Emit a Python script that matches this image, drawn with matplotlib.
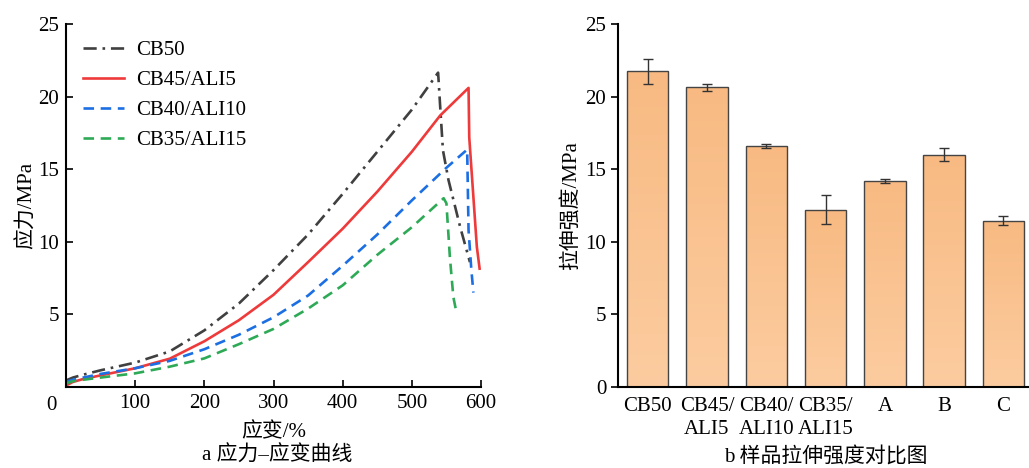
import matplotlib
matplotlib.use("Agg")
import matplotlib.pyplot as plt
import numpy as np
from matplotlib.colors import LinearSegmentedColormap

plt.rcParams['font.family'] = ['Liberation Serif', 'Noto Sans CJK SC']
plt.rcParams['font.size'] = 15
plt.rcParams['axes.unicode_minus'] = False

# stress-strain curves (strain %, stress MPa)
cb50_x = [0, 10, 25, 50, 100, 150, 200, 250, 300, 350, 400, 450, 500, 538, 541, 545, 553, 570, 584]
cb50_y = [0.45, 0.65, 0.85, 1.15, 1.68, 2.45, 3.9, 5.75, 8.05, 10.5, 13.3, 16.2, 19.1, 21.65, 19.3, 16.3, 14.25, 11.0, 8.6]

cb45_x = [0, 10, 25, 50, 100, 150, 200, 250, 300, 350, 400, 450, 500, 541, 582, 583, 594, 598]
cb45_y = [0.1, 0.35, 0.55, 0.8, 1.29, 1.95, 3.15, 4.6, 6.35, 8.6, 10.9, 13.45, 16.2, 18.7, 20.6, 17.2, 9.65, 8.15]

cb40_x = [0, 10, 25, 50, 100, 150, 200, 250, 300, 350, 400, 450, 500, 550, 580, 582, 586, 589]
cb40_y = [0.35, 0.5, 0.65, 0.9, 1.29, 1.8, 2.6, 3.6, 4.8, 6.3, 8.35, 10.5, 12.85, 15.1, 16.35, 10.8, 8.1, 6.5]

cb35_x = [0, 10, 25, 50, 100, 150, 200, 250, 300, 350, 400, 450, 500, 546, 550, 555, 560, 564]
cb35_y = [0.25, 0.4, 0.5, 0.65, 0.94, 1.4, 1.97, 2.95, 4.0, 5.4, 7.0, 9.1, 11.0, 13.0, 12.65, 8.95, 6.2, 5.25]

# tensile strength bars
samples = ['CB50', 'CB45/\nALI5', 'CB40/\nALI10', 'CB35/\nALI15', 'A', 'B', 'C']
strength = [21.75, 20.65, 16.6, 12.2, 14.2, 16.0, 11.45]
strength_err = [0.85, 0.25, 0.12, 1.0, 0.12, 0.45, 0.3]

fig = plt.figure(figsize=(10.29, 4.68), dpi=100)
ax1 = fig.add_axes([66 / 1029, 81 / 468, 415 / 1029, 363 / 468])
ax2 = fig.add_axes([618 / 1029, 81 / 468, 411 / 1029, 363 / 468])

# ---- left: stress-strain
ax1.plot(cb50_x, cb50_y, color='#404040', lw=1.9, dashes=(5, 2.2, 1, 2.2), label='CB50')
ax1.plot(cb45_x, cb45_y, color='#EE3A3A', lw=1.9, label='CB45/ALI5')
ax1.plot(cb40_x, cb40_y, color='#1C6FE3', lw=1.9, dashes=(4, 2.5), label='CB40/ALI10')
ax1.plot(cb35_x, cb35_y, color='#2EAA57', lw=1.9, dashes=(4, 2.5), label='CB35/ALI15')

ax1.set_xlim(0, 600)
ax1.set_ylim(0, 25)
ax1.set_xticks([100, 200, 300, 400, 500, 600])
ax1.set_yticks([5, 10, 15, 20, 25])
ax1.tick_params(direction='in', length=5, width=1.2, labelsize=15, pad=5)
ax1.text(-0.035, -0.025, '0', transform=ax1.transAxes, ha='center', va='top', fontsize=15)
for s in ['top', 'right']:
    ax1.spines[s].set_visible(False)
for s in ['left', 'bottom']:
    ax1.spines[s].set_linewidth(1.5)
ax1.set_xlabel('应变/%', fontsize=15, labelpad=7)
ax1.set_ylabel('应力/MPa', fontsize=15, labelpad=1)
ax1.legend(loc='upper left', frameon=False, handlelength=2.0, handletextpad=0.55, fontsize=15,
           labelspacing=0.5, bbox_to_anchor=(0.0, 1.0), borderaxespad=0.4)
fig.text(277 / 1029, 1 - 456 / 468, 'a 应力–应变曲线', ha='center', va='center', fontsize=15)

# ---- right: bar chart with light vertical gradient
pos = np.arange(len(samples))
bars = ax2.bar(pos, strength, width=0.7, color='none', edgecolor='#444444', linewidth=1.0, zorder=3)
ax2.errorbar(pos, strength, yerr=strength_err, fmt='none', ecolor='#333333',
             elinewidth=1.0, capsize=3.5, capthick=1.0, zorder=4)
cmap = LinearSegmentedColormap.from_list('bar', ['#FCCCA0', '#F8BA82'])
grad = np.linspace(0, 1, 256).reshape(-1, 1)
for b in bars:
    x0, w, h = b.get_x(), b.get_width(), b.get_height()
    im = ax2.imshow(grad, cmap=cmap, origin='lower', aspect='auto',
                    extent=[x0, x0 + w, 0, h], zorder=2)
    im.set_clip_path(b)
ax2.set_xlim(-0.5, 6.43)
ax2.set_ylim(0, 25)
ax2.set_xticks(pos)
ax2.set_xticklabels(samples, fontsize=15, linespacing=1.3)
ax2.set_yticks([0, 5, 10, 15, 20, 25])
ax2.tick_params(axis='y', direction='out', length=5, width=1.2, labelsize=15)
ax2.tick_params(axis='x', length=0, pad=7)
for s in ['top', 'right']:
    ax2.spines[s].set_visible(False)
for s in ['left', 'bottom']:
    ax2.spines[s].set_linewidth(1.5)
    ax2.spines[s].set_zorder(5)
ax2.set_ylabel('拉伸强度/MPa', fontsize=15, labelpad=3)
fig.text(826 / 1029, 1 - 457 / 468, 'b 样品拉伸强度对比图', ha='center', va='center', fontsize=15)

fig.savefig('out.png', dpi=100)
